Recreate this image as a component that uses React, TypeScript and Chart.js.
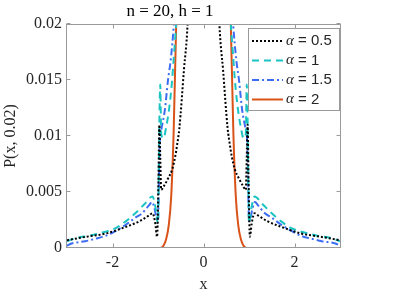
import React, { useEffect, useRef } from "react";
import { Chart, registerables } from "chart.js";

Chart.register(...registerables);

// ---- tick values / labels ----
const xTickValues = [-2, 0, 2];
const xTickLabels = ["-2", "0", "2"];
const yTickValues = [0, 0.005, 0.01, 0.015, 0.02];
const yTickLabels = ["0", "0.005", "0.01", "0.015", "0.02"];

const titleText = "n = 20, h = 1";
const xTitle = "x";
const yTitle = "P(x, 0.02)";

const alphaLabels = ["0.5", "1", "1.5", "2"];

// ---- alpha = 0.5 (black dotted) ----
const xA05 = [
  -3.0, -2.58, -2.14, -1.7, -1.4, -1.2, -1.12, -1.06, -1.02, -0.99, -0.97, -0.95, -0.93,
  -0.86, -0.78, -0.69, -0.62, -0.58, -0.53, -0.43, -0.35, -0.25, 0,
  0.25, 0.35, 0.43, 0.53, 0.58, 0.62, 0.69, 0.78, 0.86,
  0.93, 0.95, 0.97, 0.99, 1.02, 1.06, 1.12, 1.2, 1.4, 1.7, 2.14, 2.58, 3.0,
];
const yA05 = [
  0.0007, 0.001, 0.0013, 0.0019, 0.0024, 0.0029, 0.0031, 0.0022, 0.001, 0.006, 0.011, 0.008, 0.0052,
  0.0056, 0.0062, 0.007, 0.0082, 0.0092, 0.0107, 0.0159, 0.02, 0.032, 0.1,
  0.032, 0.02, 0.0159, 0.0107, 0.0092, 0.0082, 0.007, 0.0062, 0.0056,
  0.0052, 0.008, 0.011, 0.006, 0.001, 0.0022, 0.0031, 0.0029, 0.0024, 0.0019, 0.0013, 0.001, 0.0007,
];

// ---- alpha = 1 (cyan dashed) ----
const xA1 = [
  -3.0, -2.8, -2.5, -2.2, -1.92, -1.7, -1.5, -1.3, -1.12, -1.05, -1.0, -0.985, -0.965, -0.95, -0.93,
  -0.88, -0.82, -0.77, -0.73, -0.69, -0.65, -0.6, -0.5, -0.4, 0,
  0.4, 0.5, 0.6, 0.65, 0.69, 0.73, 0.77, 0.82, 0.88,
  0.93, 0.95, 0.965, 0.985, 1.0, 1.05, 1.12, 1.3, 1.5, 1.7, 1.92, 2.2, 2.5, 2.8, 3.0,
];
const yA1 = [
  0.0006, 0.0009, 0.0011, 0.0014, 0.0018, 0.0024, 0.0031, 0.0039, 0.0046, 0.0035, 0.0022, 0.006, 0.0125, 0.0146, 0.0102,
  0.0098, 0.0108, 0.012, 0.0133, 0.015, 0.0172, 0.02, 0.028, 0.04, 0.12,
  0.04, 0.028, 0.02, 0.0172, 0.015, 0.0133, 0.012, 0.0108, 0.0098,
  0.0102, 0.0146, 0.0125, 0.006, 0.0022, 0.0035, 0.0046, 0.0039, 0.0031, 0.0024, 0.0018, 0.0014, 0.0011, 0.0009, 0.0006,
];

// ---- alpha = 1.5 (blue dash-dot) ----
const xA15 = [
  -3.0, -2.9, -2.6, -2.4, -2.14, -1.9, -1.7, -1.5, -1.35, -1.2, -1.13, -1.08, -1.03, -1.0, -0.98, -0.96, -0.93,
  -0.85, -0.78, -0.72, -0.65, -0.55, -0.45, 0,
  0.45, 0.55, 0.65, 0.72, 0.78, 0.85,
  0.93, 0.96, 0.98, 1.0, 1.03, 1.08, 1.13, 1.2, 1.35, 1.5, 1.7, 1.9, 2.14, 2.4, 2.6, 2.9, 3.0,
];
const yA15 = [
  0.0002, 0.0004, 0.0006, 0.0008, 0.0011, 0.0016, 0.0021, 0.0027, 0.0031, 0.0038, 0.0041, 0.0036, 0.0026, 0.0024, 0.006, 0.0095, 0.0105,
  0.0123, 0.015, 0.0168, 0.02, 0.026, 0.035, 0.12,
  0.035, 0.026, 0.02, 0.0168, 0.015, 0.0123,
  0.0105, 0.0095, 0.006, 0.0024, 0.0026, 0.0036, 0.0041, 0.0038, 0.0031, 0.0027, 0.0021, 0.0016, 0.0011, 0.0008, 0.0006, 0.0004, 0.0002,
];

// ---- alpha = 2 (orange solid) ----
const xA2 = [
  -3.0, -0.95, -0.88, -0.82, -0.765, -0.71, -0.655, -0.6, -0.55, -0.5, 0,
  0.5, 0.55, 0.6, 0.655, 0.71, 0.765, 0.82, 0.88, 0.95, 3.0,
];
const yA2 = [
  0, 0, 0.0002, 0.0008, 0.002, 0.0046, 0.0105, 0.02, 0.034, 0.056, 0.5,
  0.056, 0.034, 0.02, 0.0105, 0.0046, 0.002, 0.0008, 0.0002, 0, 0,
];

const colors = ["#000000", "#1cc3c3", "#3d6cf4", "#d95319"];
const dashes = [[2, 2], [7, 5], [7, 3, 2, 3], []];

const AXIS = "#9a9a9a";
const TEXT = "#262626";
const SERIF = "'Liberation Serif', 'DejaVu Serif', serif";
const SANS = "'Liberation Sans', Arial, sans-serif";

function pts(xs: number[], ys: number[]) {
  return xs.map((x, i) => ({ x, y: ys[i] }));
}

const framePlugin = {
  id: "frame",
  afterDatasetsDraw(chart: any) {
    const { ctx, chartArea: a, scales } = chart;
    const xs = scales.x;
    const ys = scales.y;
    ctx.save();
    ctx.setLineDash([]);
    ctx.strokeStyle = AXIS;
    ctx.lineWidth = 1;
    const L = a.left - 0.5, R = a.right + 0.5, T = a.top + 0.5, B = a.bottom - 0.5;
    ctx.strokeRect(L, T, R - L, B - T);
    const tl = 4;
    ctx.beginPath();
    xTickValues.forEach((v) => {
      const px = Math.round(xs.getPixelForValue(v)) + 0.5;
      ctx.moveTo(px, B); ctx.lineTo(px, B - tl);
      ctx.moveTo(px, T); ctx.lineTo(px, T + tl);
    });
    yTickValues.forEach((v) => {
      const py = Math.round(ys.getPixelForValue(v)) - 0.5;
      ctx.moveTo(L, py); ctx.lineTo(L + tl, py);
      ctx.moveTo(R, py); ctx.lineTo(R - tl, py);
    });
    ctx.stroke();

    // legend
    const lx1 = a.right - 0.5;
    const lx0 = lx1 - 91;
    const ly0 = a.top + 4.5;
    const ly1 = ly0 + 82;
    ctx.fillStyle = "#ffffff";
    ctx.fillRect(lx0, ly0, lx1 - lx0, ly1 - ly0);
    ctx.strokeStyle = AXIS;
    ctx.strokeRect(lx0, ly0, lx1 - lx0, ly1 - ly0);
    chart.data.datasets.forEach((ds: any, i: number) => {
      const cy = ly0 + 12.5 + i * 19.5;
      ctx.save();
      ctx.strokeStyle = ds.borderColor;
      ctx.lineWidth = ds.borderWidth;
      ctx.setLineDash(ds.borderDash || []);
      ctx.beginPath();
      ctx.moveTo(lx0 + 3.5, cy);
      ctx.lineTo(lx0 + 34.5, cy);
      ctx.stroke();
      ctx.restore();
      ctx.fillStyle = TEXT;
      ctx.textBaseline = "middle";
      ctx.textAlign = "left";
      let tx = lx0 + 37.5;
      ctx.font = `italic 15px ${SERIF}`;
      ctx.fillText("\u03b1", tx, cy);
      tx += ctx.measureText("\u03b1").width;
      ctx.font = `15px ${SANS}`;
      ctx.fillText(" = " + alphaLabels[i], tx, cy);
    });
    ctx.restore();
  },
};

export default function App() {
  const ref = useRef<HTMLCanvasElement | null>(null);
  useEffect(() => {
    if (!ref.current) return;
    const chart = new Chart(ref.current, {
      type: "line",
      data: {
        datasets: [
          { label: "\u03b1 = " + alphaLabels[0], data: pts(xA05, yA05) },
          { label: "\u03b1 = " + alphaLabels[1], data: pts(xA1, yA1) },
          { label: "\u03b1 = " + alphaLabels[2], data: pts(xA15, yA15) },
          { label: "\u03b1 = " + alphaLabels[3], data: pts(xA2, yA2) },
        ].map((d, i) => ({
          ...d,
          borderColor: colors[i],
          backgroundColor: colors[i],
          borderWidth: 2,
          borderDash: dashes[i],
          pointRadius: 0,
          fill: false,
          tension: 0,
          cubicInterpolationMode: "monotone" as const,
        })),
      },
      options: {
        animation: false,
        responsive: false,
        parsing: true,
        layout: { padding: { top: 0, left: 0, right: 67, bottom: 0 } },
        plugins: {
          legend: { display: false },
          tooltip: { enabled: false },
          title: {
            display: true,
            text: titleText,
            color: "#000",
            font: { family: SERIF, size: 17, weight: "normal" as const, lineHeight: 1.2 },
            padding: { top: 1, bottom: 2.6 },
          },
        },
        scales: {
          x: {
            type: "linear",
            min: -3,
            max: 3,
            grid: { display: false, drawTicks: false },
            border: { display: false },
            afterBuildTicks: (s: any) => {
              s.ticks = xTickValues.map((v) => ({ value: v }));
            },
            afterFit: (s: any) => {
              s.height = 48;
            },
            ticks: {
              autoSkip: false,
              maxRotation: 0,
              padding: 5,
              color: TEXT,
              font: { family: SERIF, size: 16 },
              callback: (v: any) => {
                const i = xTickValues.indexOf(Number(v));
                return i >= 0 ? xTickLabels[i] : "";
              },
            },
            title: {
              display: true,
              text: xTitle,
              color: TEXT,
              font: { family: SERIF, size: 16 },
              padding: { top: 0, bottom: 2 },
            },
          },
          y: {
            type: "linear",
            min: 0,
            max: 0.02,
            grid: { display: false, drawTicks: false },
            border: { display: false },
            afterBuildTicks: (s: any) => {
              s.ticks = yTickValues.map((v) => ({ value: v }));
            },
            afterFit: (s: any) => {
              s.width = 67;
            },
            ticks: {
              autoSkip: false,
              padding: 5,
              color: TEXT,
              font: { family: SERIF, size: 16 },
              callback: (v: any) => {
                const i = yTickValues.findIndex((t) => Math.abs(t - Number(v)) < 1e-9);
                return i >= 0 ? yTickLabels[i] : "";
              },
            },
            title: {
              display: true,
              text: yTitle,
              color: TEXT,
              font: { family: SERIF, size: 16 },
              padding: { top: 1, bottom: 0 },
            },
          },
        },
      },
      plugins: [framePlugin],
    });
    return () => chart.destroy();
  }, []);
  return (
    <div style={{ position: "absolute", left: 0, top: 0, width: 407, height: 296, background: "#fff" }}>
      <canvas ref={ref} width={407} height={296} />
    </div>
  );
}
